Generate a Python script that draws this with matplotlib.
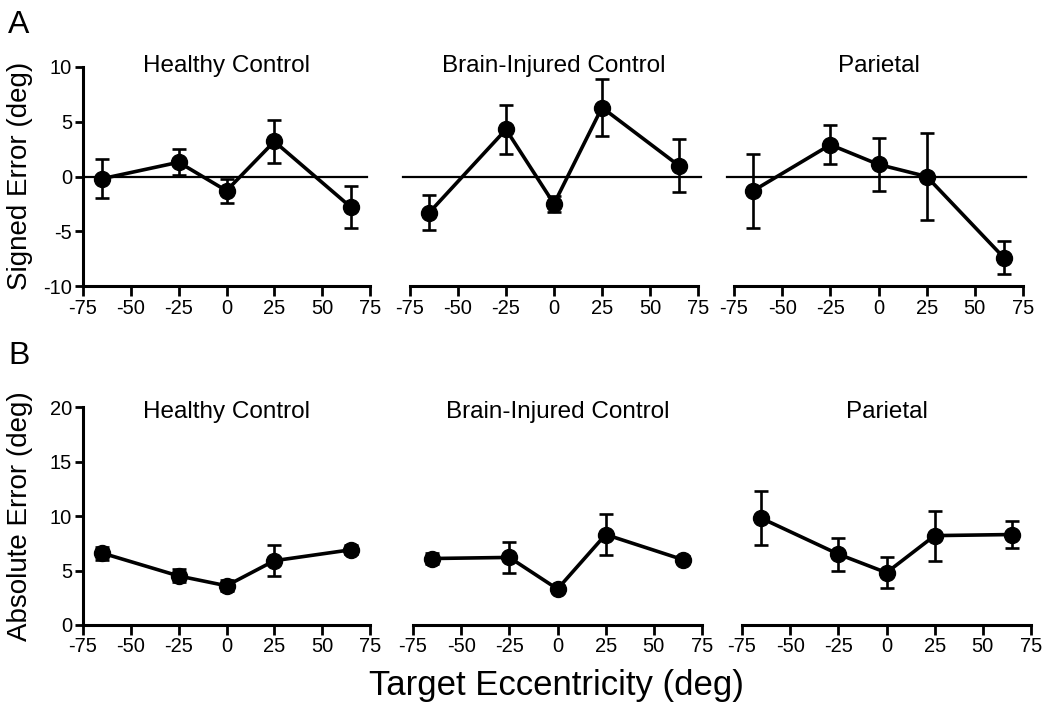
import numpy as np
import matplotlib.pyplot as plt

plt.rcParams['font.family'] = ['Liberation Sans', 'DejaVu Sans']
plt.rcParams['axes.unicode_minus'] = False

# target eccentricities (deg)
ecc = [-65, -25, 0, 25, 65]
groups = ['Healthy Control', 'Brain-Injured Control', 'Parietal']

# A: signed error (deg), mean and error bar half-length
signed_mean = [
    [-0.2, 1.3, -1.3, 3.2, -2.8],
    [-3.3, 4.3, -2.5, 6.3, 1.0],
    [-1.3, 2.9, 1.1, 0.0, -7.4],
]
signed_err = [
    [1.8, 1.2, 1.1, 2.0, 1.9],
    [1.6, 2.2, 0.7, 2.6, 2.4],
    [3.4, 1.8, 2.4, 4.0, 1.5],
]

# B: absolute error (deg)
abs_mean = [
    [6.6, 4.5, 3.6, 5.9, 6.9],
    [6.1, 6.2, 3.3, 8.3, 6.0],
    [9.8, 6.5, 4.8, 8.2, 8.3],
]
abs_err = [
    [0.6, 0.6, 0.5, 1.4, 0.4],
    [0.5, 1.4, 0.3, 1.9, 0.3],
    [2.5, 1.5, 1.4, 2.3, 1.2],
]

W, H = 1044, 704
fig = plt.figure(figsize=(W / 100, H / 100), dpi=100)


def px_axes(x0, x1, ytop, ybot):
    return fig.add_axes([x0 / W, 1 - ybot / H, (x1 - x0) / W, (ybot - ytop) / H])


top_x = [(83, 370), (410, 698), (734, 1023)]
bot_x = [(83, 370), (413, 702), (742, 1031)]


def style(ax, first, ylim, yticks):
    ax.set_xlim(-75, 75)
    ax.set_ylim(*ylim)
    ax.set_xticks([-75, -50, -25, 0, 25, 50, 75])
    ax.set_yticks(yticks)
    ax.spines['top'].set_visible(False)
    ax.spines['right'].set_visible(False)
    ax.spines['bottom'].set_linewidth(2.2)
    ax.spines['left'].set_linewidth(2.2)
    ax.tick_params(axis='both', direction='out', width=2.0, labelsize=14.5,
                   colors='black')
    ax.tick_params(axis='x', length=7, pad=2)
    ax.tick_params(axis='y', length=6, pad=2)
    if not first:
        ax.spines['left'].set_visible(False)
        ax.tick_params(axis='y', left=False, labelleft=False)
    ax.patch.set_visible(False)


def draw(ax, mean, err):
    ax.errorbar(ecc, mean, yerr=err, color='black', lw=2.6, marker='o',
                markersize=11.5, elinewidth=1.9, capsize=5, capthick=1.9,
                clip_on=False, zorder=3)


for i in range(3):
    ax = px_axes(top_x[i][0], top_x[i][1], 67, 286)
    style(ax, i == 0, (-10, 10), [-10, -5, 0, 5, 10])
    if i == 0:
        ax.axhline(0, xmin=0, xmax=0.99, color='black', lw=1.6, zorder=1)
    else:
        ax.axhline(0, xmin=-0.025, xmax=1.01, color='black', lw=1.6,
                   zorder=1, clip_on=False)
    draw(ax, signed_mean[i], signed_err[i])
    ax.text(0.5, 0.977, groups[i], transform=ax.transAxes, ha='center',
            va='baseline', fontsize=17.5)

for i in range(3):
    ax = px_axes(bot_x[i][0], bot_x[i][1], 407, 625)
    style(ax, i == 0, (0, 20), [0, 5, 10, 15, 20])
    draw(ax, abs_mean[i], abs_err[i])
    ax.text(0.5, 0.95, groups[i], transform=ax.transAxes, ha='center',
            va='baseline', fontsize=17.5)

fig.text(20 / W, 1 - 176 / H, 'Signed Error (deg)', rotation=90,
         ha='center', va='center', fontsize=20)
fig.text(20 / W, 1 - 516 / H, 'Absolute Error (deg)', rotation=90,
         ha='center', va='center', fontsize=20)
fig.text(556 / W, 1 - 695 / H, 'Target Eccentricity (deg)', ha='center',
         va='baseline', fontsize=25)
fig.text(8 / W, 1 - 33 / H, 'A', va='baseline', fontsize=23)
fig.text(8 / W, 1 - 364 / H, 'B', va='baseline', fontsize=23)

fig.savefig('out.png', dpi=100)
